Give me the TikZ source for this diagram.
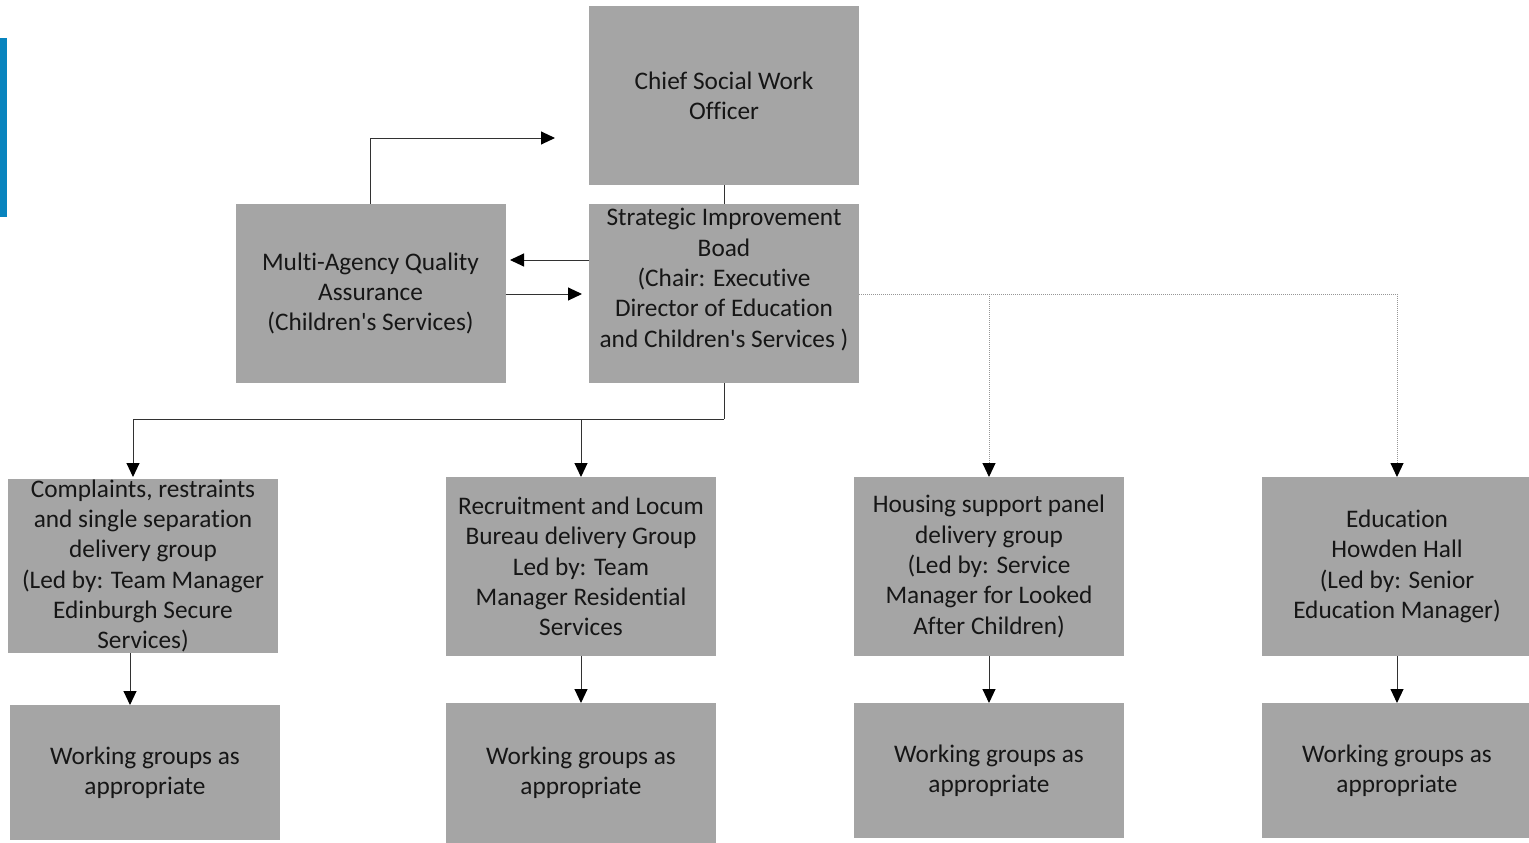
\documentclass[tikz,border=0pt]{standalone}
\usepackage{fontspec}
\setmainfont[Ligatures={NoCommon}]{Carlito}
\usetikzlibrary{arrows.meta}
\definecolor{boxgray}{RGB}{165,165,165}
\definecolor{txt}{RGB}{22,22,22}
\definecolor{linec}{RGB}{50,50,50}
\definecolor{dotc}{RGB}{150,150,150}
\definecolor{barblue}{RGB}{8,132,190}
\newcommand{\sq}{\textquotesingle}
\begin{document}
\begin{tikzpicture}[x=1pt,y=-1pt,
  box/.style={fill=boxgray,draw=none,inner sep=0pt,outer sep=0pt,align=center,text=txt,
    font=\fontsize{25.3}{30.3}\selectfont},
  btxt/.style={inner sep=0pt,align=center,text=txt,font=\fontsize{25.3}{30.3}\selectfont},
  conn/.style={draw=linec,line width=1pt},
  arr/.style={conn,-{Triangle[length=14pt,width=13pt,color=black]}},
  dotarr/.style={draw=dotc,line width=1pt,densely dotted,-{Triangle[length=14pt,width=13pt,color=black]}},
  dotln/.style={draw=dotc,line width=1pt,densely dotted}]
\useasboundingbox (0,0) rectangle (1529,843);
\fill[barblue] (0,38) rectangle (7,217);

% top row
\node[box,minimum width=270pt,minimum height=179pt] (cswo) at (724,95.5) {Chief Social Work\\Officer};
\node[box,minimum width=270pt,minimum height=179pt] (sib) at (724,293.5) {};
\node[btxt] (sibt) at ([yshift=14pt]sib.center) {Strategic Improvement\\Boad\\(Chair: Executive\\Director of Education\\and Children\sq s Services )};
\node[box,minimum width=270pt,minimum height=179pt] (maqa) at (370.5,293.5) {Multi-Agency Quality\\Assurance\\(Children\sq s Services)};

% delivery groups
\node[box,minimum width=270pt,minimum height=174pt] (comp) at (143,566) {Complaints, restraints\\and single separation\\delivery group\\(Led by: Team Manager\\Edinburgh Secure\\Services)};
\node[box,minimum width=270pt,minimum height=179pt] (recr) at (581,566.5) {Recruitment and Locum\\Bureau delivery Group\\Led by: Team\\Manager Residential\\Services};
\node[box,minimum width=270pt,minimum height=179pt] (hous) at (989,566.5) {Housing support panel\\delivery group\\(Led by: Service\\Manager for Looked\\After Children)};
\node[box,minimum width=270pt,minimum height=179pt] (educ) at (1397,566.5) {Education\\Howden Hall\\(Led by: Senior\\Education Manager)};

% working groups
\node[box,minimum width=270pt,minimum height=135pt] (wg1) at (145,772.5) {Working groups as\\appropriate};
\node[box,minimum width=270pt,minimum height=140pt] (wg2) at (581,773) {Working groups as\\appropriate};
\node[box,minimum width=270pt,minimum height=135pt] (wg3) at (989,770.5) {Working groups as\\appropriate};
\node[box,minimum width=270pt,minimum height=135pt] (wg4) at (1397,770.5) {Working groups as\\appropriate};

% coordinates
\coordinate (qaend) at (555,138);
\coordinate (j1) at (724,419);
\coordinate (j2) at (989,294);

% connectors
\draw[conn] (cswo.south) -- (sib.north);
\draw[arr] (maqa.north) |- (qaend);
\draw[arr] (sib.west |- 0,260) -- (510,260);
\draw[arr] (maqa.east |- 0,294) -- (582,294);
\draw[conn] (sib.south) -- (j1);
\draw[arr] (j1) -| (133,477);
\draw[arr] (581,419) -- (recr.north);
\draw[dotln] (sib.east |- 0,294) -- (1397,294);
\draw[dotarr] (j2) -- (hous.north);
\draw[dotarr] (1397,294) -- (educ.north);
\draw[arr] (130,653) -- (130,705);
\draw[arr] (recr.south) -- (wg2.north);
\draw[arr] (hous.south) -- (wg3.north);
\draw[arr] (educ.south) -- (wg4.north);
\end{tikzpicture}
\end{document}
